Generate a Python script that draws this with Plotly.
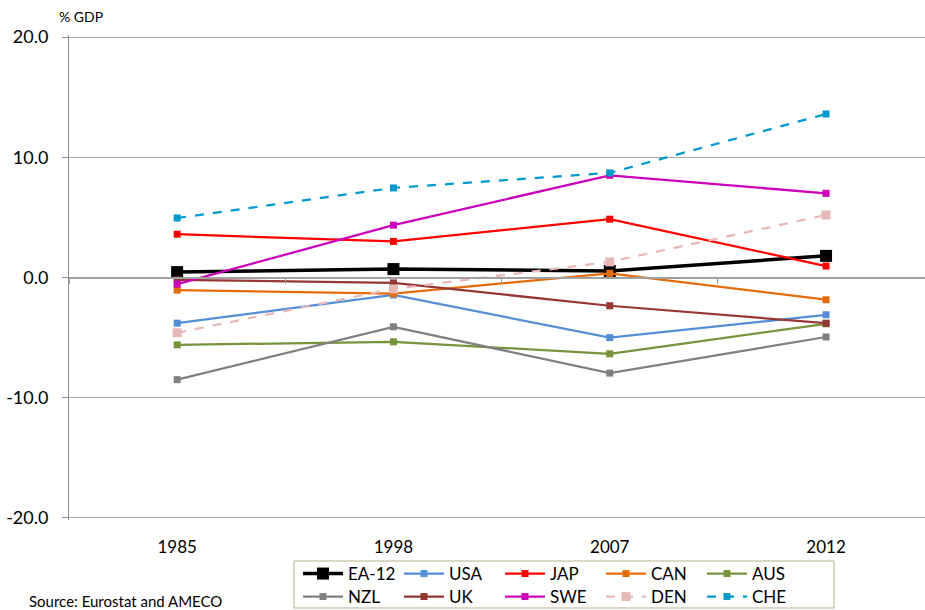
import plotly.graph_objects as go

years = ["1985", "1998", "2007", "2012"]

ea12 = [0.45, 0.7, 0.55, 1.8]
usa = [-3.8, -1.45, -5.0, -3.1]
jap = [3.6, 3.0, 4.85, 0.95]
can = [-1.05, -1.35, 0.35, -1.85]
aus = [-5.6, -5.35, -6.35, -3.85]
nzl = [-8.5, -4.1, -7.95, -4.95]
uk = [-0.2, -0.45, -2.35, -3.8]
swe = [-0.55, 4.35, 8.5, 7.0]
den = [-4.6, -0.95, 1.3, 5.2]
che = [4.95, 7.45, 8.7, 13.6]

y_ticks = [-20, -10, 0, 10, 20]
y_tick_labels = ["-20.0", "-10.0", "0.0", "10.0", "20.0"]

FONT = "Lato"

series = [
    ("EA-12", ea12, "#000000", "solid", 3.5, 12, "legend"),
    ("USA", usa, "#558ED5", "solid", 2.25, 7, "legend"),
    ("JAP", jap, "#FF0000", "solid", 2.25, 7, "legend"),
    ("CAN", can, "#E46C0A", "solid", 2.25, 7, "legend"),
    ("AUS", aus, "#77933C", "solid", 2.25, 7, "legend"),
    ("NZL", nzl, "#808080", "solid", 2.25, 7, "legend2"),
    ("UK", uk, "#953735", "solid", 2.25, 7, "legend2"),
    ("SWE", swe, "#CC00BB", "solid", 2.25, 7, "legend2"),
    ("DEN", den, "#E6B9B8", "dash", 2.25, 9, "legend2"),
    ("CHE", che, "#0099CC", "dash", 2.25, 7, "legend2"),
]

fig = go.Figure()

# invisible helper trace for the category axis drawn through zero
fig.add_trace(go.Scatter(x=years, y=[None] * len(years), xaxis="x2", yaxis="y",
                         mode="markers", marker=dict(opacity=0),
                         showlegend=False, hoverinfo="skip"))

for name, vals, color, dash, lw, ms, lg in series:
    fig.add_trace(go.Scatter(
        x=years, y=vals, name=name, mode="lines+markers",
        line=dict(color=color, width=lw, dash=dash),
        marker=dict(symbol="square", size=ms, color=color),
        legend=lg,
    ))

W, H = 925, 610
L, R, T, B = 69, 0, 35, 90
pw = W - L - R
ph = H - T - B
cat_w = 216.3
xr = [-0.5, -0.5 + pw / cat_w]

def px_x(p):
    return (p - L) / pw

def px_y(p):
    return (H - B - p) / ph

legend_common = dict(orientation="h", xref="container", yref="container",
                     xanchor="left", yanchor="middle",
                     entrywidth=46, entrywidthmode="pixels",
                     font=dict(size=17, family=FONT), bgcolor="rgba(0,0,0,0)",
                     borderwidth=0, itemwidth=40)

fig.update_layout(
    width=W, height=H,
    margin=dict(l=L, r=R, t=T, b=B, autoexpand=False),
    paper_bgcolor="white", plot_bgcolor="white",
    font=dict(family=FONT, color="#000000"),
    xaxis=dict(type="category", categoryorder="array", categoryarray=years,
               range=xr, showline=False, showgrid=False, zeroline=False,
               ticks="outside", ticklen=12, tickcolor="rgba(0,0,0,0)",
               tickfont=dict(size=17, family=FONT)),
    xaxis2=dict(type="category", categoryorder="array", categoryarray=years,
                overlaying="x", anchor="free", position=0.5, range=xr,
                showline=True, linecolor="#a0a0a0", linewidth=1.5,
                showgrid=False, zeroline=False, showticklabels=False,
                ticks="outside", ticklen=6, tickcolor="#a0a0a0",
                tickson="boundaries"),
    yaxis=dict(range=[-20.17, 20.17], tickvals=y_ticks, ticktext=y_tick_labels,
               showgrid=True, gridcolor="#a6a6a6", gridwidth=1,
               zeroline=False, showline=True, linecolor="#8c8c8c", linewidth=1,
               ticks="outside", ticklen=6, tickcolor="#8c8c8c",
               ticklabelstandoff=10,
               tickfont=dict(size=18, family=FONT)),
    legend=dict(legend_common, x=(294 + 4) / W, y=1 - 574 / H),
    legend2=dict(legend_common, x=(294 + 4) / W, y=1 - 597 / H),
    shapes=[dict(type="rect", xref="paper", yref="paper",
                 x0=px_x(294), x1=px_x(834), y0=px_y(608), y1=px_y(561),
                 line=dict(color="#B8B090", width=1), fillcolor="rgba(0,0,0,0)")],
    annotations=[
        dict(text="% GDP", xref="paper", yref="paper", x=px_x(57), y=px_y(17),
             xanchor="left", yanchor="middle", showarrow=False,
             font=dict(size=14, family=FONT)),
        dict(text="Source: Eurostat and AMECO", xref="paper", yref="paper",
             x=px_x(27), y=px_y(601), xanchor="left", yanchor="middle",
             showarrow=False, font=dict(size=15, family=FONT)),
    ],
)

fig.write_html("out.html", config={"displayModeBar": False},
               post_script="document.body.style.margin='0';document.body.style.overflow='hidden';")
